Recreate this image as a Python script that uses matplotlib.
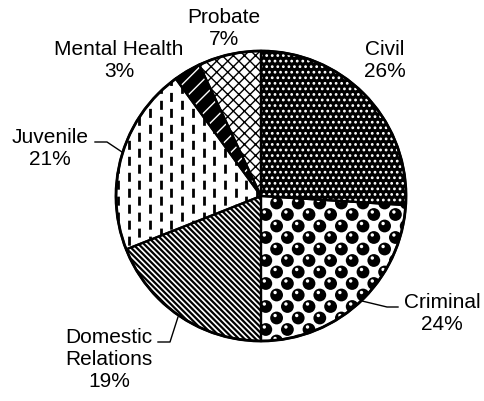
import matplotlib
matplotlib.use('Agg')
import matplotlib.pyplot as plt
import numpy as np
from matplotlib.patches import Circle

# --------------------------
# data
# --------------------------
categories = ['Civil', 'Criminal', 'Domestic\nRelations', 'Juvenile', 'Mental Health', 'Probate']
shares = [26, 24, 19, 21, 3, 7]

# fill style per slice: (face, hatch colour, hatch, hatch linewidth)
styles = [
    ('black', 'white', '...', 1.2),
    ('white', 'black', None, 1.0),
    ('white', 'black', '\\\\\\\\\\\\', 1.6),
    ('white', 'black', None, 1.0),
    ('black', 'white', '//', 1.0),
    ('white', 'black', 'xxx', 1.0),
]

W, H = 484, 402
plt.rcParams['font.family'] = ['Liberation Sans', 'DejaVu Sans']
plt.rcParams['lines.scale_dashes'] = False
fig = plt.figure(figsize=(W / 100, H / 100), dpi=100)
ax = fig.add_axes([0, 0, 1, 1])

cx, cy, r = 261, H - 197, 145

# filled/hatched slices
wedges, _ = ax.pie(shares, startangle=90, counterclock=False, center=(cx, cy), radius=r,
                   frame=True)
for w, (face, hc, hatch, hlw) in zip(wedges, styles):
    w.set_facecolor(face)
    w.set_edgecolor(hc)
    w.set_linewidth(0)
    if hatch:
        w.set_hatch(hatch)
        if hasattr(w, 'set_hatch_linewidth'):
            w.set_hatch_linewidth(hlw)

# criminal: staggered black balls
crim = wedges[1]
bx, by = [], []
for j, yy in enumerate(np.arange(cy - r, cy + 4, 11.5)):
    off = 0 if j % 2 == 0 else 10.8
    for xx in np.arange(cx - 6 + off, cx + r + 10, 21.6):
        bx.append(xx)
        by.append(yy)
ax.scatter(bx, by, s=85, color='black', edgecolors='none', clip_path=crim, zorder=2)
ax.scatter(np.array(bx) - 1.5, np.array(by) + 2.5, s=6, color='white', edgecolors='none',
           clip_path=crim, zorder=2)

# juvenile: short vertical dashes clipped to the slice
juv = wedges[3]
xs = np.arange(cx - 4, cx - r - 10, -10.7)
ax.vlines(xs[0::2], cy - r, cy + r, colors='black', linewidth=2.0,
          linestyles=(0, (6.5, 5.0)), clip_path=juv, zorder=2)
ax.vlines(xs[1::2], cy - r, cy + r, colors='black', linewidth=2.0,
          linestyles=(5.7, (6.5, 5.0)), clip_path=juv, zorder=2)

# outlines
ax.pie(shares, startangle=90, counterclock=False, center=(cx, cy), radius=r, frame=True,
       wedgeprops=dict(fill=False, edgecolor='black', linewidth=1.6, zorder=3))
ax.add_patch(Circle((cx, cy), r, fill=False, edgecolor='black', linewidth=2.0, zorder=3))
ax.set_xlim(0, W)
ax.set_ylim(0, H)
ax.axis('off')

# labels
label_pos = [(385, 40), (442, 293), (109, 328), (50, 128), (119, 40), (224, 8)]
for name, v, (tx, ty) in zip(categories, shares, label_pos):
    ax.text(tx, H - ty, f'{name}\n{v}%', ha='center', va='top', fontsize=15,
            color='black', linespacing=1.2)

# leader lines
leaders = [
    [(95, 143), (107, 143), (122, 153)],
    [(398, 308), (387, 308), (362, 302)],
    [(158, 343), (170, 343), (178, 318)],
]
for pts in leaders:
    px = [p[0] for p in pts]
    py = [H - p[1] for p in pts]
    ax.plot(px, py, color='black', linewidth=1.0)

fig.savefig('out.png', dpi=100)
